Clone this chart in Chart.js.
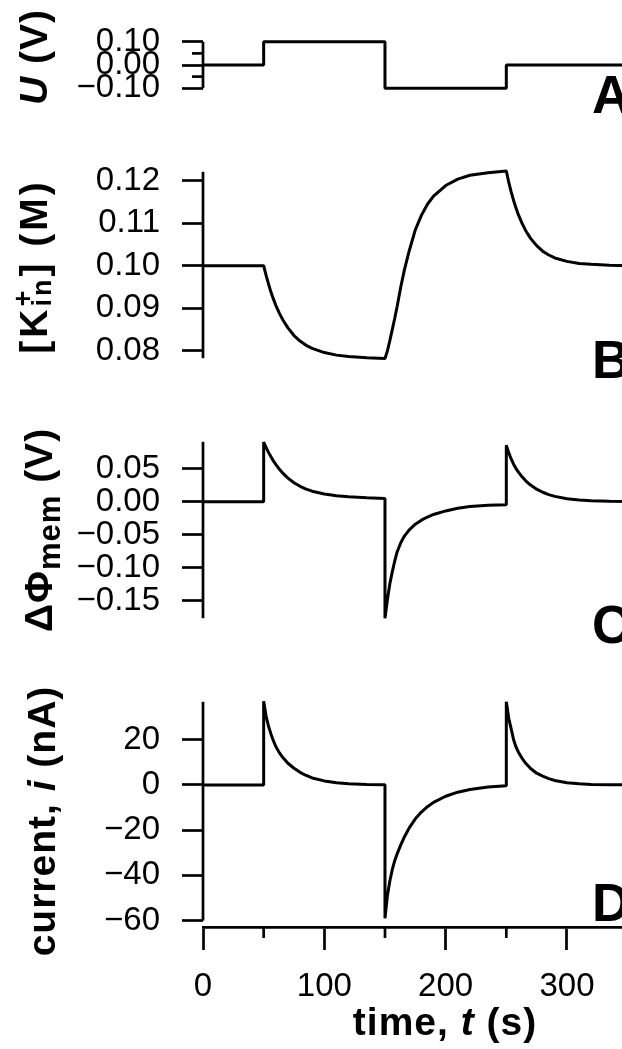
<!DOCTYPE html>
<html>
<head>
<meta charset="utf-8">
<script src="https://cdn.jsdelivr.net/npm/chart.js@4.4.0/dist/chart.umd.min.js"></script>
<style>
  html, body { margin: 0; padding: 0; background: #fff; overflow: hidden; }
  #wrap { position: relative; width: 622px; height: 1049px; overflow: hidden; }
  canvas { position: absolute; left: 0; }
</style>
</head>
<body>
<div id="wrap">
  <canvas id="panelA" width="720" height="130" style="top:0px"></canvas>
  <canvas id="panelB" width="720" height="270" style="top:130px"></canvas>
  <canvas id="panelC" width="720" height="260" style="top:400px"></canvas>
  <canvas id="panelD" width="720" height="389" style="top:660px"></canvas>
</div>
<script>
// Applied voltage steps (panel A)
const uTime = [0, 50, 50, 150, 150, 250, 250, 400];
const uVolt = [0, 0, 0.1, 0.1, -0.1, -0.1, 0, 0];

// Sample times (s) shared by panels B-D, repeated at the steps
const time = [
  0, 50,
  50, 52, 54, 56, 58, 60, 63, 66, 70, 75, 80, 85, 90, 100, 110, 120, 135, 150,
  150, 152, 154, 156, 158, 160, 163, 166, 170, 175, 180, 185, 190, 200, 210, 220, 235, 250,
  250, 252, 254, 256, 258, 260, 263, 266, 270, 275, 280, 285, 290, 300, 310, 320, 335, 350, 380, 400
];

// [K+in] (M)
const kIn = [
  0.1000, 0.1000,
  0.1000, 0.0977, 0.0957, 0.0938, 0.0922, 0.0907, 0.0888, 0.0872, 0.0854, 0.0836, 0.0823, 0.0813, 0.0806, 0.0796, 0.0790, 0.0787, 0.0784, 0.0782,
  0.0782, 0.0800, 0.0824, 0.0850, 0.0876, 0.0904, 0.0950, 0.0990, 0.1035, 0.1084, 0.1118, 0.1144, 0.1163, 0.1188, 0.1203, 0.1212, 0.1218, 0.1222,
  0.1222, 0.1196, 0.1173, 0.1153, 0.1135, 0.1119, 0.1099, 0.1082, 0.1064, 0.1047, 0.1034, 0.1025, 0.1018, 0.1010, 0.1005, 0.1003, 0.1001, 0.1000, 0.1000, 0.1000
];

// membrane potential difference (V)
const dPhi = [
  0, 0,
  0.0900, 0.0818, 0.0744, 0.0677, 0.0616, 0.0562, 0.0489, 0.0426, 0.0356, 0.0286, 0.0232, 0.0190, 0.0158, 0.0115, 0.0090, 0.0073, 0.0058, 0.0048,
  -0.1760, -0.1480, -0.1240, -0.1060, -0.0900, -0.0760, -0.0620, -0.0520, -0.0425, -0.0340, -0.0280, -0.0232, -0.0193, -0.0140, -0.0100, -0.0074, -0.0055, -0.0046,
  0.0852, 0.0740, 0.0645, 0.0565, 0.0500, 0.0445, 0.0375, 0.0315, 0.0250, 0.0188, 0.0142, 0.0107, 0.0080, 0.0045, 0.0025, 0.0014, 0.0006, 0.0002, 0.0000, 0.0000
];

// current (nA)
const current = [
  0, 0,
  37.0, 30.5, 26.0, 22.6, 19.6, 17.0, 14.2, 12.0, 9.6, 7.4, 5.6, 4.2, 3.1, 1.8, 1.0, 0.55, 0.2, 0.08,
  -59.0, -49.0, -42.5, -37.5, -33.5, -30.5, -26.5, -23.0, -19.0, -15.0, -12.0, -9.6, -7.7, -5.0, -3.2, -2.0, -0.9, -0.4,
  36.8, 29.5, 24.8, 20.0, 16.8, 14.5, 11.8, 9.6, 7.3, 5.2, 3.9, 2.8, 2.0, 1.0, 0.5, 0.25, 0.1, 0.05, 0, 0
];

// Ticks
const uTicks = [-0.1, 0, 0.1];
const uMinor = [-0.05, 0.05];
const kTicks = [0.08, 0.09, 0.10, 0.11, 0.12];
const phiTicks = [-0.15, -0.10, -0.05, 0, 0.05];
const iTicks = [-60, -40, -20, 0, 20];
const tTicks = [0, 100, 200, 300];
const tMinor = [50, 150, 250, 350];

const INK = '#000';
const LW = 2.7;
const FAM = '"Liberation Sans", Arial, sans-serif';
const TITLE = 'bold 39px ' + FAM;
const TITLE_I = 'italic bold 39px ' + FAM;
const SMALL = 'bold 27px ' + FAM;
const SUB = 'bold 31px ' + FAM;

Chart.defaults.color = INK;
Chart.defaults.font.family = FAM;
Chart.defaults.font.size = 33;

const fmt = (v, d) => (v < 0 ? '\u2212' : '') + Math.abs(v).toFixed(d);

// text made of pieces (italic, sub/superscript), centred on (x, y)
function drawRich(ctx, t, vertical) {
  ctx.save();
  ctx.letterSpacing = (t.gap || 1) + 'px';
  const width = p => {
    if (Array.isArray(p)) return Math.max(...p.map(width));
    ctx.font = p.f;
    return ctx.measureText(p.t).width;
  };
  const total = t.parts.reduce((s, p) => s + width(p), 0);
  ctx.translate(t.x, t.y);
  if (vertical) ctx.rotate(-Math.PI / 2);
  ctx.fillStyle = INK;
  ctx.textAlign = 'left';
  ctx.textBaseline = 'alphabetic';
  let pos = -total / 2;
  t.parts.forEach(p => {
    const w = width(p);
    (Array.isArray(p) ? p : [p]).forEach(q => {
      ctx.font = q.f;
      ctx.fillText(q.t, pos, q.dy || 0);
    });
    pos += w;
  });
  ctx.restore();
}

// axis lines, minor ticks, axis titles and panel letters
function panelDecor(o) {
  return {
    id: 'panelDecor',
    afterDraw(chart) {
      const ctx = chart.ctx, xs = chart.scales.x, ys = chart.scales.y;
      ctx.save();
      ctx.strokeStyle = INK;
      ctx.lineWidth = LW;
      ctx.beginPath();
      ctx.moveTo(ys.right, ys.getPixelForValue(o.ySpan[1]));
      ctx.lineTo(ys.right, ys.getPixelForValue(o.ySpan[0]));
      ctx.stroke();
      (o.yMinor || []).forEach(v => {
        const py = ys.getPixelForValue(v);
        ctx.beginPath();
        ctx.moveTo(ys.right - 11, py);
        ctx.lineTo(ys.right, py);
        ctx.stroke();
      });
      (o.xMinor || []).forEach(v => {
        const px = xs.getPixelForValue(v);
        ctx.beginPath();
        ctx.moveTo(px, xs.top);
        ctx.lineTo(px, xs.top + 11);
        ctx.stroke();
      });
      ctx.restore();
      drawRich(ctx, o.yTitle, true);
      if (o.xTitle) drawRich(ctx, o.xTitle, false);
      ctx.save();
      ctx.fillStyle = INK;
      ctx.font = 'bold 53px ' + FAM;
      ctx.fillText(o.letter.t, o.letter.x, o.letter.y);
      ctx.restore();
    }
  };
}

function yScale(min, max, ticks, digits) {
  return {
    type: 'linear', min: min, max: max,
    afterFit: s => { s.width = 203; },
    afterBuildTicks: s => { s.ticks = ticks.map(v => ({ value: v })); },
    border: { display: false },
    grid: { drawOnChartArea: false, tickLength: 21, tickWidth: LW, tickColor: INK },
    ticks: { autoSkip: false, padding: 22, callback: v => fmt(v, digits) }
  };
}

function xScale(show) {
  return {
    type: 'linear', min: 0, max: 400, display: show,
    afterFit: s => { s.height = show ? 122 : 0; },
    afterBuildTicks: s => { s.ticks = tTicks.map(v => ({ value: v })); },
    border: { display: true, color: INK, width: LW },
    grid: { drawOnChartArea: false, tickLength: 23, tickWidth: LW, tickColor: INK },
    ticks: { autoSkip: false, maxRotation: 0, padding: 17, callback: v => String(v) }
  };
}

function makePanel(id, xs, ys, y, showX, padding, decor) {
  return new Chart(document.getElementById(id), {
    type: 'line',
    data: {
      datasets: [{
        data: xs.map((t, i) => ({ x: t, y: ys[i] })),
        borderColor: INK,
        borderWidth: 3,
        borderJoinStyle: 'bevel',
        pointRadius: 0,
        tension: 0,
        fill: false,
        clip: false
      }]
    },
    options: {
      responsive: false,
      animation: false,
      events: [],
      layout: { padding: padding },
      scales: { x: xScale(showX), y: y },
      plugins: { legend: { display: false }, tooltip: { enabled: false } }
    },
    plugins: [panelDecor(decor)]
  });
}

// Panel A: applied voltage
makePanel('panelA', uTime, uVolt, yScale(-0.1, 0.1, uTicks, 2), false,
  { top: 31.7, bottom: 39.3, left: 0, right: 31.7 },
  {
    ySpan: [-0.1, 0.1], yMinor: uMinor,
    yTitle: { x: 47, y: 57, gap: 0, parts: [{ t: 'U', f: TITLE_I }, { t: ' (V)', f: TITLE }] },
    letter: { t: 'A', x: 592, y: 113 }
  });

// Panel B: internal potassium concentration
makePanel('panelB', time, kIn, yScale(0.07828, 0.12202, kTicks, 2), false,
  { top: 13.3, bottom: 18.3, left: 0, right: 31.7 },
  {
    ySpan: [0.07828, 0.12202],
    yTitle: { x: 47, y: 136.5, gap: 3, parts: [
      { t: '[K', f: TITLE },
      [{ t: '+', f: SMALL, dy: -15 }, { t: 'in', f: SMALL, dy: 4 }],
      { t: '] (M)', f: TITLE }
    ] },
    letter: { t: 'B', x: 592, y: 248 }
  });

// Panel C: membrane potential
makePanel('panelC', time, dPhi, yScale(-0.176, 0.0904, phiTicks, 2), false,
  { top: 16.7, bottom: 5, left: 0, right: 31.7 },
  {
    ySpan: [-0.176, 0.0904],
    yTitle: { x: 52, y: 130, gap: 1, parts: [
      { t: '\u0394\u03a6', f: TITLE }, { t: 'mem', f: SUB, dy: 8 }, { t: ' (V)', f: TITLE }
    ] },
    letter: { t: 'C', x: 592, y: 243 }
  });

// Panel D: current
makePanel('panelD', time, current, yScale(-62.85, 36.8, iTicks, 0), true,
  { top: 22.7, bottom: 0, left: 0, right: 31.7 },
  {
    ySpan: [-60, 36.8], xMinor: tMinor,
    yTitle: { x: 55, y: 161, gap: 1, parts: [
      { t: 'current, ', f: TITLE }, { t: 'i', f: TITLE_I }, { t: ' (nA)', f: TITLE }
    ] },
    xTitle: { x: 445, y: 375, gap: 1, parts: [
      { t: 'time, ', f: TITLE }, { t: 't', f: TITLE_I }, { t: ' (s)', f: TITLE }
    ] },
    letter: { t: 'D', x: 592, y: 261 }
  });
</script>
</body>
</html>
